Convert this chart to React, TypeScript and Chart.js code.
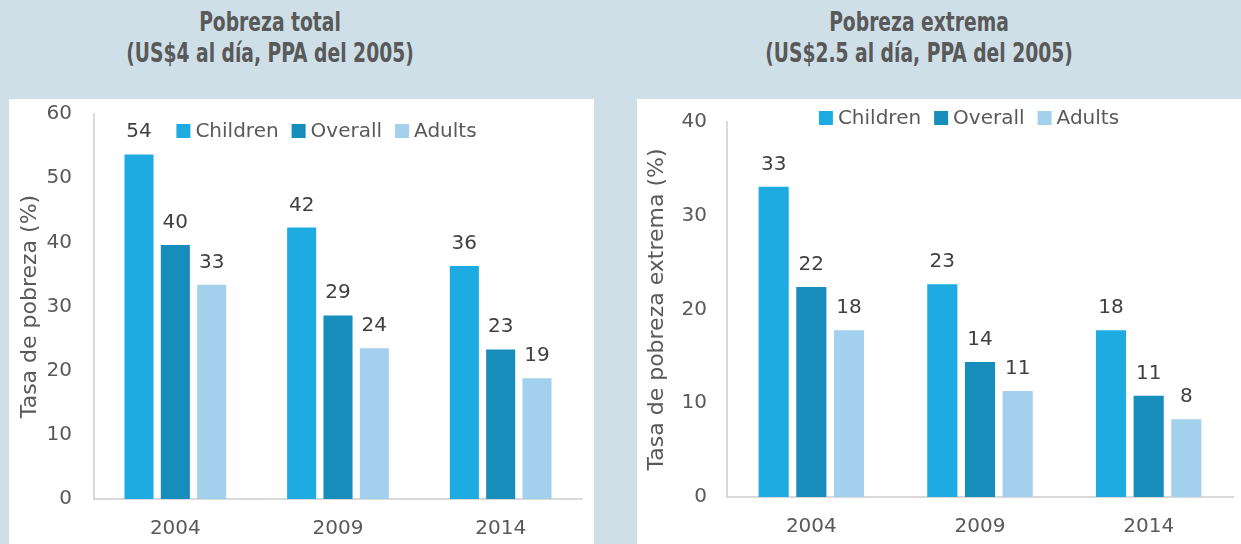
import React, { useEffect, useRef } from 'react';
import { Chart, registerables } from 'chart.js';

Chart.register(...registerables);

// ---- Data ----
const categories = ['2004', '2009', '2014'];
const seriesNames = ['Children', 'Overall', 'Adults'];
const seriesColors = ['#1eabe2', '#168dbb', '#a3d0ed'];

const totalChildren = [53.7, 42.3, 36.3];
const totalOverall = [39.6, 28.6, 23.3];
const totalAdults = [33.4, 23.5, 18.8];

const extremeChildren = [33.1, 22.7, 17.8];
const extremeOverall = [22.4, 14.4, 10.8];
const extremeAdults = [17.8, 11.3, 8.3];

const totalTitleLines = ['Pobreza total', '(US$4 al día, PPA del 2005)'];
const extremeTitleLines = ['Pobreza extrema', '(US$2.5 al día, PPA del 2005)'];

const FONT = '"DejaVu Sans", "Noto Sans", sans-serif';
const TITLE_FONT = '"DejaVu Sans Condensed", "DejaVu Sans", sans-serif';

const legendPlugin = {
  id: 'customLegend',
  afterDraw(chart: any, _args: any, opts: any) {
    const { ctx } = chart;
    ctx.save();
    ctx.font = `20px ${FONT}`;
    const items = chart.data.datasets.map((ds: any) => ({
      label: ds.label,
      color: ds.backgroundColor,
      w: ctx.measureText(ds.label).width,
    }));
    const box = 14, gapText = 5, gapItem = 13;
    const total = items.reduce((s: number, it: any) => s + box + gapText + it.w, 0) + gapItem * (items.length - 1);
    let x = opts.centerX - total / 2;
    const y = opts.centerY;
    ctx.textBaseline = 'middle';
    ctx.textAlign = 'left';
    for (const it of items) {
      ctx.fillStyle = it.color;
      ctx.fillRect(x, y - box / 2, box, box);
      x += box + gapText;
      ctx.fillStyle = '#595959';
      ctx.fillText(it.label, x, y + 1);
      x += it.w + gapItem;
    }
    ctx.restore();
  },
};

const labelPlugin = {
  id: 'barLabels',
  afterDatasetsDraw(chart: any) {
    const { ctx } = chart;
    ctx.save();
    ctx.font = `20px ${FONT}`;
    ctx.fillStyle = '#404040';
    ctx.textAlign = 'center';
    ctx.textBaseline = 'alphabetic';
    chart.data.datasets.forEach((ds: any, i: number) => {
      const meta = chart.getDatasetMeta(i);
      meta.data.forEach((bar: any, j: number) => {
        ctx.fillText(String(Math.round(ds.data[j])), bar.x, bar.y - 17);
      });
    });
    ctx.restore();
  },
};

type PanelProps = {
  width: number;
  height: number;
  plot: { left: number; top: number; right: number; bottom: number };
  values: number[][];
  yMax: number;
  axisTitle: string;
  tickPad: number;
  xTickPad: number;
  titlePad: number;
  legendX: number;
  legendY: number;
};

function BarPanel(p: PanelProps) {
  const ref = useRef<HTMLCanvasElement>(null);
  useEffect(() => {
    if (!ref.current) return;
    const chart = new Chart(ref.current, {
      type: 'bar',
      data: {
        labels: categories,
        datasets: seriesNames.map((name, i) => ({
          label: name,
          data: p.values[i],
          backgroundColor: seriesColors[i],
          borderWidth: 0,
          categoryPercentage: 0.67,
          barPercentage: 0.8,
        })),
      },
      options: {
        responsive: false,
        animation: false,
        layout: {
          padding: { left: 0, top: p.plot.top, right: p.width - p.plot.right, bottom: 0 },
        },
        plugins: {
          legend: { display: false },
          tooltip: { enabled: false },
          title: { display: false },
          customLegend: { centerX: p.legendX, centerY: p.legendY },
        } as any,
        scales: {
          x: {
            grid: { display: false, drawTicks: false },
            border: { display: true, color: '#d9d9d9', width: 2 },
            ticks: { color: '#595959', font: { family: FONT, size: 20 }, padding: p.xTickPad },
            afterFit: (s: any) => {
              s.height = p.height - p.plot.bottom;
              s.paddingLeft = 0;
              s.paddingRight = 0;
            },
          },
          y: {
            min: 0,
            max: p.yMax,
            grid: { display: false, drawTicks: false },
            border: { display: true, color: '#d9d9d9', width: 2 },
            ticks: { stepSize: 10, color: '#595959', font: { family: FONT, size: 20 }, padding: p.tickPad },
            title: {
              display: true,
              text: p.axisTitle,
              color: '#595959',
              font: { family: FONT, size: 22, weight: 'normal' },
              padding: { top: p.titlePad, bottom: 0 },
            },
            afterFit: (s: any) => {
              s.width = p.plot.left;
              s.paddingTop = 0;
              s.paddingBottom = 0;
            },
          },
        },
      },
      plugins: [legendPlugin, labelPlugin],
    });
    return () => chart.destroy();
  }, []);
  return <canvas ref={ref} width={p.width} height={p.height} style={{ width: p.width, height: p.height, display: 'block' }} />;
}

function Title({ lines, cx }: { lines: string[]; cx: number }) {
  return (
    <div
      style={{
        position: 'absolute',
        left: cx - 300,
        top: 7,
        width: 600,
        textAlign: 'center',
        fontFamily: TITLE_FONT,
        fontWeight: 'bold',
        fontSize: 26,
        lineHeight: '31px',
        color: '#595959',
        transform: 'scaleX(0.8)',
        transformOrigin: '50% 50%',
      }}
    >
      {lines.map((l) => (
        <div key={l}>{l}</div>
      ))}
    </div>
  );
}

export default function App() {
  return (
    <div
      style={{
        position: 'fixed',
        left: 0,
        top: 0,
        width: 1241,
        height: 544,
        background: '#cfdfe8',
        overflow: 'hidden',
      }}
    >
      <Title lines={totalTitleLines} cx={270} />
      <Title lines={extremeTitleLines} cx={919} />
      <div style={{ position: 'absolute', left: 9, top: 99, width: 585, height: 445, background: '#fff' }}>
        <BarPanel
          width={585}
          height={445}
          plot={{ left: 85, top: 15, right: 573, bottom: 400 }}
          values={[totalChildren, totalOverall, totalAdults]}
          yMax={60}
          axisTitle="Tasa de pobreza (%)"
          tickPad={22}
          xTickPad={18}
          titlePad={8}
          legendX={317.5}
          legendY={32}
        />
      </div>
      <div style={{ position: 'absolute', left: 637, top: 99, width: 604, height: 445, background: '#fff' }}>
        <BarPanel
          width={604}
          height={445}
          plot={{ left: 90, top: 23, right: 596, bottom: 398 }}
          values={[extremeChildren, extremeOverall, extremeAdults]}
          yMax={40}
          axisTitle="Tasa de pobreza extrema (%)"
          tickPad={20}
          xTickPad={18}
          titlePad={7}
          legendX={332}
          legendY={19}
        />
      </div>
    </div>
  );
}
